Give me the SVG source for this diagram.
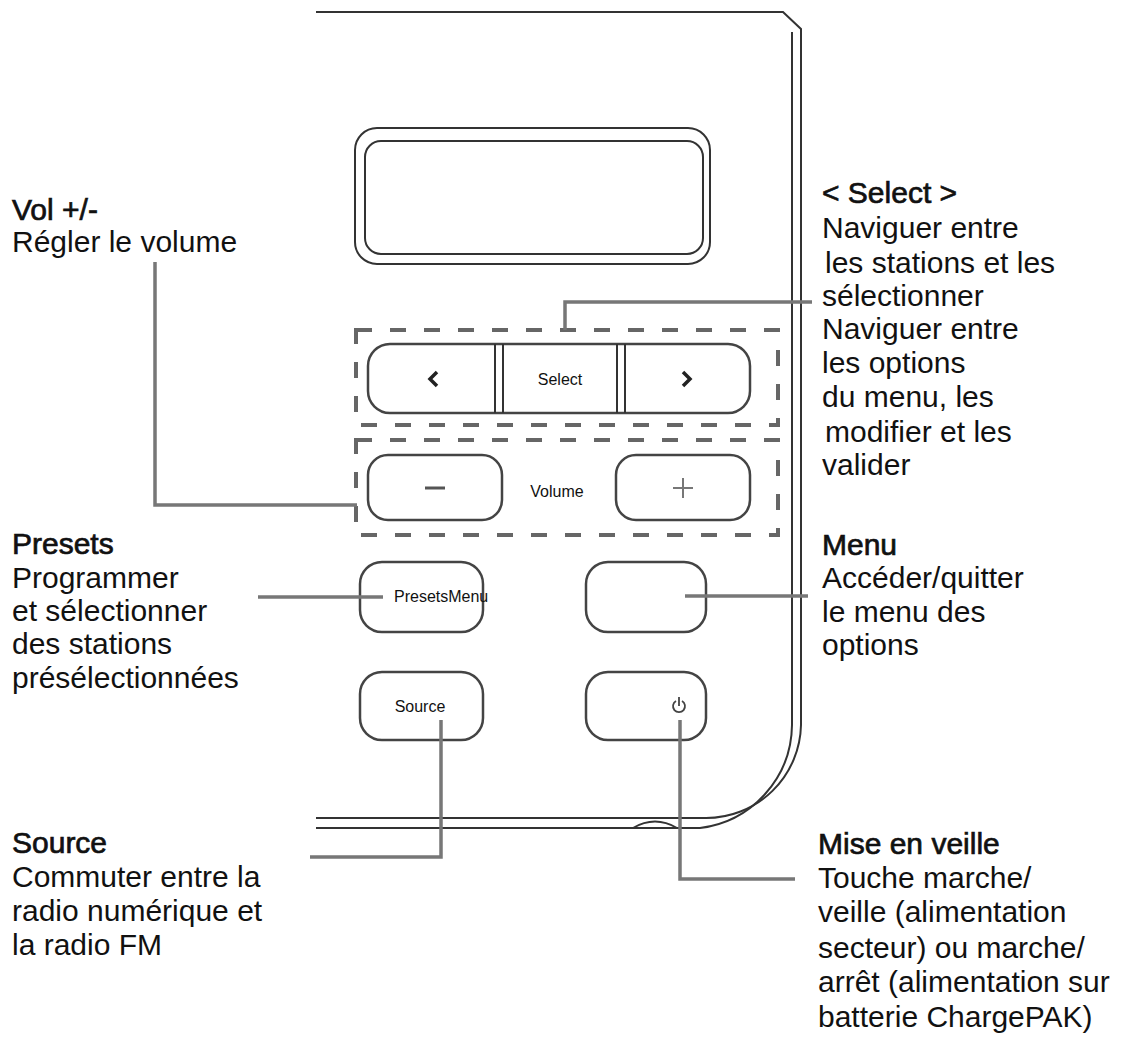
<svg xmlns="http://www.w3.org/2000/svg" width="1132" height="1054" viewBox="0 0 1132 1054">
<style>
.o{fill:none;stroke:#333;stroke-width:2}
.b{fill:#fff;stroke:#444;stroke-width:2.5}
.d{fill:none;stroke:#666;stroke-width:4;stroke-dasharray:16 18}
.c{fill:none;stroke:#777;stroke-width:3.5}
text{font-family:"Liberation Sans",Arial,sans-serif;fill:#111}
.t{font-size:30px}
.h{font-size:30px;stroke:#111;stroke-width:0.7}
.s{font-size:16px}
</style>
<rect width="1132" height="1054" fill="#fff"/>
<g id="housing">
<path class="o" d="M316 12 H783 L801 29 V725 A95 95 0 0 1 706 818 H316"/>
<path class="o" d="M792 32 V725 A105 105 0 0 1 700 828 H316"/>
<path class="o" d="M633 828 Q655 815 677 828"/>
</g>
<g id="display">
<rect class="o" x="355" y="128" width="355" height="136" rx="22"/>
<rect class="o" x="365" y="141" width="338" height="113" rx="16"/>
</g>
<g id="select-group">
<rect class="d" x="356" y="330" width="422" height="95"/>
<rect class="b" x="368" y="344" width="382" height="69" rx="22"/>
<line class="o" x1="495" y1="344" x2="495" y2="413"/><line class="o" x1="503" y1="344" x2="503" y2="413"/>
<line class="o" x1="617" y1="344" x2="617" y2="413"/><line class="o" x1="625" y1="344" x2="625" y2="413"/>
<path d="M437 372 L430 379 L437 386 M683 372 L690 379 L683 386" fill="none" stroke="#222" stroke-width="3.5"/>
<text class="s" x="560" y="385" text-anchor="middle">Select</text>
</g>
<g id="volume-group">
<rect class="d" x="356" y="440" width="422" height="95"/>
<rect class="b" x="368" y="455" width="134" height="65" rx="20"/>
<rect class="b" x="616" y="455" width="134" height="65" rx="20"/>
<line x1="425" y1="488" x2="445" y2="488" stroke="#555" stroke-width="3"/>
<path d="M673 488 H693 M683 478 V498" stroke="#777" stroke-width="2"/>
<text class="s" x="557" y="497" text-anchor="middle">Volume</text>
</g>
<g id="presets-btn"><rect class="b" x="360" y="562" width="123" height="70" rx="22"/><text class="s" x="394" y="602">PresetsMenu</text></g>
<g id="menu-btn"><rect class="b" x="586" y="562" width="120" height="70" rx="22"/></g>
<g id="source-btn"><rect class="b" x="360" y="672" width="123" height="68" rx="22"/><text class="s" x="420" y="712" text-anchor="middle">Source</text></g>
<g id="power-btn"><rect class="b" x="586" y="672" width="120" height="68" rx="22"/><path d="M682 701 A6 6 0 1 1 676 701 M679 697 V706" fill="none" stroke="#444" stroke-width="1.8"/></g>
<g id="connectors">
<path class="c" d="M155 262 V505 H357"/>
<path class="c" d="M565 330 V302 H812"/>
<path class="c" d="M258 597 H383"/>
<path class="c" d="M685 596 H808"/>
<path class="c" d="M441 720 V857 H310"/>
<path class="c" d="M680 720 V879 H795"/>
</g>
<g id="labels">
<text class="h" x="12" y="220">Vol +/-</text>
<text class="t" x="12" y="252">Régler le volume</text>
<text class="h" x="12" y="554">Presets</text>
<text class="t" x="12" y="588">Programmer</text>
<text class="t" x="12" y="621">et sélectionner</text>
<text class="t" x="12" y="654">des stations</text>
<text class="t" x="12" y="688">présélectionnées</text>
<text class="h" x="12" y="853">Source</text>
<text class="t" x="12" y="887">Commuter entre la</text>
<text class="t" x="12" y="921">radio numérique et</text>
<text class="t" x="12" y="955">la radio FM</text>
<text class="h" x="822" y="203">&lt; Select &gt;</text>
<text class="t" x="822" y="238">Naviguer entre</text>
<text class="t" x="825" y="273">les stations et les</text>
<text class="t" x="822" y="306">sélectionner</text>
<text class="t" x="822" y="339">Naviguer entre</text>
<text class="t" x="822" y="373">les options</text>
<text class="t" x="822" y="407">du menu, les</text>
<text class="t" x="825" y="442">modifier et les</text>
<text class="t" x="822" y="475">valider</text>
<text class="h" x="822" y="555">Menu</text>
<text class="t" x="822" y="588">Accéder/quitter</text>
<text class="t" x="822" y="622">le menu des</text>
<text class="t" x="822" y="655">options</text>
<text class="h" x="818" y="854">Mise en veille</text>
<text class="t" x="818" y="888">Touche marche/</text>
<text class="t" x="818" y="922">veille (alimentation</text>
<text class="t" x="818" y="958">secteur) ou marche/</text>
<text class="t" x="818" y="992">arrêt (alimentation sur</text>
<text class="t" x="818" y="1027">batterie ChargePAK)</text>
</g>
</svg>
